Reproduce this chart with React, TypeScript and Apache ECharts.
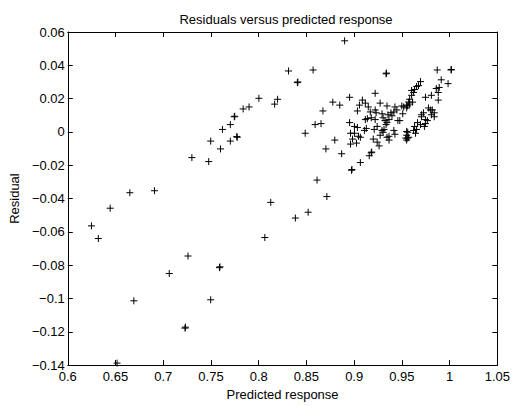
import React, { useEffect, useRef } from "react";
import * as echarts from "echarts";

const titleText = "Residuals versus predicted response";
const xLabel = "Predicted response";
const yLabel = "Residual";

const xTicks = ["0.6", "0.65", "0.7", "0.75", "0.8", "0.85", "0.9", "0.95", "1", "1.05"];
const yTicks = ["−0.14", "−0.12", "−0.1", "−0.08", "−0.06", "−0.04", "−0.02", "0", "0.02", "0.04", "0.06"];

const predicted = [
  0.6516, 0.6248, 0.632, 0.6444, 0.665, 0.6908, 0.6692, 0.7063, 0.7259, 0.7228,
  0.7232, 0.7497, 0.7589, 0.7594, 0.73, 0.7476, 0.76, 0.7497, 0.7703, 0.7775,
  0.777, 0.762, 0.7703, 0.7744, 0.7749, 0.7837, 0.7899, 0.8002, 0.8167, 0.8198,
  0.8312, 0.857, 0.8405, 0.841, 0.89, 0.8064, 0.8126, 0.8384, 0.8518, 0.8714,
  0.8611, 0.8673, 0.8591, 0.8653, 0.8487, 0.8797, 0.8704, 0.8869, 0.9065, 0.8972,
  0.8977, 0.8776, 0.8849, 0.8952, 0.9334, 0.9339, 0.922,
  0.9086, 0.9117, 0.9055, 0.9034, 0.9272, 0.9344, 0.9148, 0.9169, 0.922, 0.923,
  0.9427, 0.9447, 0.9416, 0.9519, 0.9571, 0.955, 0.9385, 0.9396, 0.9354, 0.9292,
  0.9303, 0.9117, 0.9138, 0.9179, 0.922, 0.8952, 0.9003, 0.9034, 0.9323, 0.9344,
  0.9334, 0.9365, 0.9478, 0.9107, 0.9127, 0.921, 0.9241, 0.9292, 0.9313, 0.9303,
  0.9272, 0.9344, 0.9365, 0.9365, 0.9416, 0.9427, 0.8962, 0.9003, 0.8983, 0.8962,
  0.9024, 0.9045, 0.9065, 0.92, 0.9241, 0.9261, 0.955, 0.954, 0.9571, 0.9179,
  0.9158, 0.9184, 0.9499, 0.9509, 0.9458,
  0.987, 1.0015, 1.0018, 0.9912, 0.9984, 0.9695, 0.9674, 0.9654, 0.9633, 0.9602,
  0.9623, 0.9602, 0.986, 0.9891, 0.9881, 0.9881, 0.9747, 0.9809, 0.9581, 0.9612,
  0.9581, 0.9561, 0.955, 0.9778, 0.9798, 0.9819, 0.9839, 0.9809, 0.9839, 0.9726,
  0.9705, 0.9705, 0.9747, 0.9767, 0.9747, 0.9736, 0.9695, 0.9664, 0.9633, 0.9654,
  0.9643, 0.9623, 0.9561, 0.955, 0.9561, 0.955
];

const residual = [
  -0.1388, -0.0564, -0.064, -0.0458, -0.0365, -0.0353, -0.1014, -0.085, -0.0745, -0.1178,
  -0.1172, -0.1008, -0.0815, -0.081, -0.0154, -0.0178, -0.0102, -0.0055, -0.0055, -0.0032,
  -0.0028, 0.0015, 0.0044, 0.0091, 0.0094, 0.0138, 0.015, 0.0202, 0.0167, 0.0196,
  0.0366, 0.0372, 0.0296, 0.03, 0.0547, -0.0634, -0.0423, -0.0517, -0.0482, -0.0388,
  -0.0289, 0.0126, 0.0044, 0.005, -0.0008, -0.0049, -0.0102, -0.0131, -0.0184, -0.023,
  -0.0226, 0.0179, 0.0161, 0.0208, 0.0349, 0.0353, 0.0232,
  0.0191, 0.0173, 0.0161, 0.0126, 0.0173, 0.0156, 0.015, 0.012, 0.0132, 0.0115,
  0.015, 0.0132, 0.012, 0.015, 0.0179, 0.0161, 0.0115, 0.0097, 0.0103, 0.0109,
  0.0085, 0.0074, 0.008, 0.0085, 0.0074, 0.0056, 0.0033, 0.0027, 0.0068, 0.0056,
  0.0044, 0.0074, 0.0068, 0.0009, 0.0021, 0.0015, 0.0033, 0.0009, 0.0015, -0.0002,
  -0.002, -0.0032, -0.0026, -0.0049, 0.0009, -0.0014, -0.0008, -0.0008, -0.0043, -0.0073,
  -0.0067, -0.0026, -0.0032, -0.0043, -0.0061, -0.0084, 0.0003, -0.0037, -0.0032, -0.0125,
  -0.0143, -0.0121, 0.0156, 0.0109, 0.0068,
  0.0372, 0.0372, 0.0375, 0.0313, 0.029, 0.0302, 0.0278, 0.0273, 0.0255, 0.0249,
  0.0237, 0.022, 0.0261, 0.0267, 0.0237, 0.0191, 0.0208, 0.022, 0.0196, 0.0179,
  0.0167, 0.0156, 0.0144, 0.0144, 0.0132, 0.0132, 0.0115, 0.0103, 0.0091, 0.0115,
  0.0103, 0.0091, 0.0074, 0.0068, 0.005, 0.0033, 0.0044, 0.0056, 0.0033, 0.0015,
  -0.0008, 0.0009, -0.0002, -0.002, -0.0037, -0.0049
];

const FONT = "'Liberation Sans', Arial, Helvetica, sans-serif";

export default function App() {
  const ref = useRef<HTMLDivElement>(null);
  useEffect(() => {
    if (!ref.current) return;
    const chart = echarts.init(ref.current, undefined, { renderer: "svg" });
    const data = predicted.map((p, i) => [p, residual[i]]);
    const xFmt = (v: number) => {
      const idx = Math.round((v - 0.6) / 0.05);
      return xTicks[idx] ?? "";
    };
    const yFmt = (v: number) => {
      const idx = Math.round((v + 0.14) / 0.02);
      return yTicks[idx] ?? "";
    };
    const axisCommon = {
      axisLine: { show: true, onZero: false, lineStyle: { color: "#000", width: 1 } },
      axisTick: { show: true, inside: true, length: 5, lineStyle: { color: "#000", width: 1 } },
      splitLine: { show: false },
    };
    chart.setOption({
      animation: false,
      backgroundColor: "#fff",
      textStyle: { fontFamily: FONT },
      title: {
        text: titleText,
        left: 281,
        top: 8,
        textAlign: "center",
        textStyle: { fontFamily: FONT, fontSize: 13, fontWeight: "normal", color: "#000" },
      },
      grid: { left: 63, right: 15, top: 32, bottom: 32, containLabel: false },
      xAxis: [
        {
          type: "value",
          min: 0.6,
          max: 1.05,
          interval: 0.05,
          position: "bottom",
          name: xLabel,
          nameLocation: "middle",
          nameGap: 19,
          nameTextStyle: { fontFamily: FONT, fontSize: 13, color: "#000" },
          axisLabel: { show: true, margin: 5, color: "#000", fontFamily: FONT, fontSize: 13, formatter: xFmt },
          ...axisCommon,
        },
        {
          type: "value",
          min: 0.6,
          max: 1.05,
          interval: 0.05,
          position: "top",
          axisLabel: { show: false },
          ...axisCommon,
        },
      ],
      yAxis: [
        {
          type: "value",
          min: -0.14,
          max: 0.06,
          interval: 0.02,
          position: "left",
          name: yLabel,
          nameLocation: "middle",
          nameGap: 38,
          nameTextStyle: { fontFamily: FONT, fontSize: 13, color: "#000" },
          axisLabel: { show: true, margin: 3, color: "#000", fontFamily: FONT, fontSize: 13, formatter: yFmt },
          ...axisCommon,
        },
        {
          type: "value",
          min: -0.14,
          max: 0.06,
          interval: 0.02,
          position: "right",
          axisLabel: { show: false },
          ...axisCommon,
        },
      ],
      series: [
        {
          type: "scatter",
          xAxisIndex: 0,
          yAxisIndex: 0,
          data,
          symbol: "path://M0,5L10,5M5,0L5,10",
          symbolSize: 7,
          itemStyle: { color: "transparent", borderColor: "#000", borderWidth: 1, opacity: 1 },
          emphasis: { disabled: true },
        },
      ],
    });
    return () => chart.dispose();
  }, []);
  return (
    <div
      ref={ref}
      style={{ position: "fixed", left: 0, top: 0, width: 513, height: 406, background: "#fff" }}
    />
  );
}
